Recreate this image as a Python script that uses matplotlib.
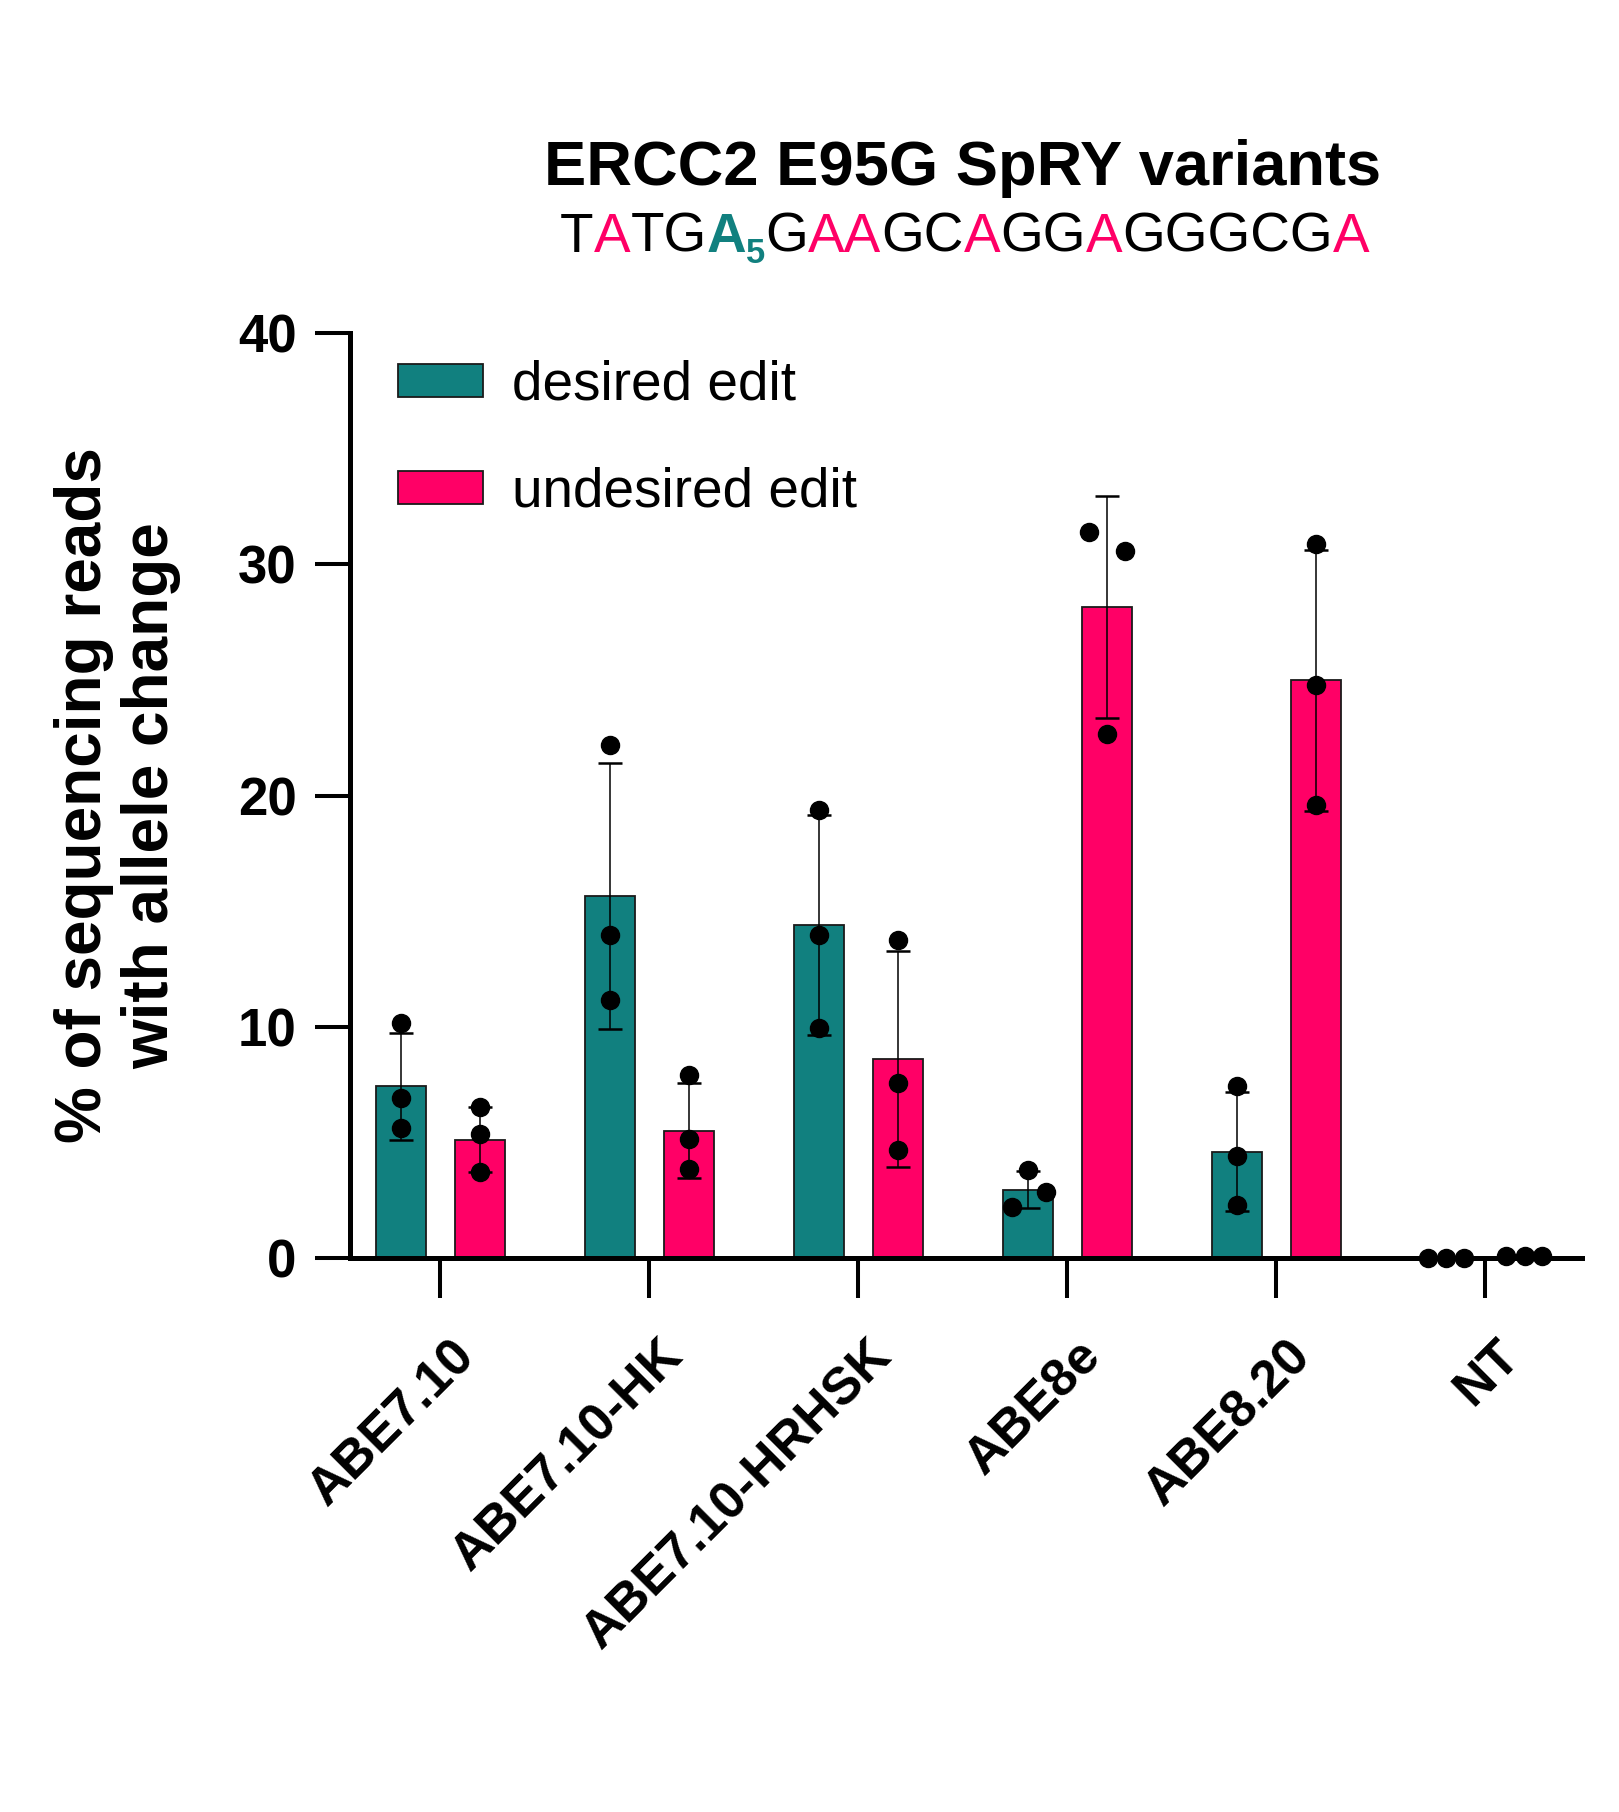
import numpy as np
import matplotlib
matplotlib.use("Agg")
import matplotlib.pyplot as plt
from matplotlib.transforms import ScaledTranslation

plt.rcParams['font.family'] = ['Liberation Sans', 'DejaVu Sans']

# ---------------- data ----------------
categories = ['ABE7.10', 'ABE7.10-HK', 'ABE7.10-HRHSK', 'ABE8e', 'ABE8.20', 'NT']
series_names = ['desired edit', 'undesired edit']

desired_mean = [7.42, 15.65, 14.40, 2.95, 4.60, 0.0]
desired_sd = [2.30, 5.75, 4.75, 0.80, 2.57, 0.0]
desired_points = [[10.16, 6.91, 5.61],
                  [22.19, 13.95, 11.17],
                  [19.39, 13.98, 9.94],
                  [3.81, 2.87, 2.22],
                  [7.45, 4.39, 2.29],
                  [0.0, 0.0, 0.0]]

undesired_mean = [5.11, 5.51, 8.59, 28.17, 24.98, 0.1]
undesired_sd = [1.40, 2.07, 4.67, 4.80, 5.65, 0.0]
undesired_points = [[6.55, 5.35, 3.74],
                    [7.92, 5.14, 3.84],
                    [13.75, 7.56, 4.65],
                    [31.39, 30.57, 22.68],
                    [30.88, 24.77, 19.59],
                    [0.1, 0.1, 0.1]]

y_ticks = [0, 10, 20, 30, 40]

title_text = 'ERCC2 E95G SpRY variants'
ylabel_text = '% of sequencing reads\nwith allele change'
# sequence pieces: (text, role)
seq_pieces = [('T', 'n'), ('A', 'p'), ('TG', 'n'), ('A', 't'), ('5', 'sub'),
              ('G', 'n'), ('AA', 'p'), ('GC', 'n'), ('A', 'p'), ('GG', 'n'),
              ('A', 'p'), ('GGGCG', 'n'), ('A', 'p')]

# ---------------- style / layout ----------------
TEAL = '#11807F'
PINK = '#FF0066'
W, H = 1619, 1812
DPI = 100
bar_w = 0.24
bar_off = 0.189
# horizontal jitter of replicate dots (category units)
desired_jit = [[0, 0, 0], [0, 0, 0], [0, 0, 0], [0, 0.085, -0.075], [0, 0, 0], [-0.085, 0, 0.085]]
undesired_jit = [[0, 0, 0], [0, 0, 0], [0, 0, 0], [-0.088, 0.084, 0], [0, 0, 0], [-0.09, 0, 0.08]]

fig = plt.figure(figsize=(W / DPI, H / DPI), dpi=DPI)
ax = fig.add_axes([350 / W, 1 - 1258 / H, 1232 / W, 925 / H])

x = np.arange(len(categories))
dm, ds = np.array(desired_mean), np.array(desired_sd)
um, us = np.array(undesired_mean), np.array(undesired_sd)

b1 = ax.bar(x - bar_off, dm, width=bar_w, color=TEAL, edgecolor='#1a1a1a', linewidth=1.3,
            label=series_names[0], zorder=2)
b2 = ax.bar(x + bar_off, um, width=bar_w, color=PINK, edgecolor='#1a1a1a', linewidth=1.3,
            label=series_names[1], zorder=2)

m1 = ds > 0
m2 = us > 0
ax.errorbar((x - bar_off)[m1], dm[m1], yerr=ds[m1], fmt='none', ecolor='black',
            elinewidth=1.1, capsize=8.5, capthick=1.8, zorder=3)
ax.errorbar((x + bar_off)[m2], um[m2], yerr=us[m2], fmt='none', ecolor='black',
            elinewidth=1.1, capsize=8.5, capthick=1.8, zorder=3)

for i in range(len(categories)):
    ax.plot(x[i] - bar_off + np.array(desired_jit[i]), desired_points[i], 'o', color='black',
            markersize=13, zorder=4, clip_on=False)
    ax.plot(x[i] + bar_off + np.array(undesired_jit[i]), undesired_points[i], 'o', color='black',
            markersize=13, zorder=4, clip_on=False)

ax.set_xlim(-0.433, 5.462)
ax.set_ylim(0, 40)
ax.set_yticks(y_ticks)
ax.set_yticklabels([str(t) for t in y_ticks], fontweight='bold')
ax.set_xticks(x)
ax.set_xticklabels(categories, fontweight='bold', rotation=45, ha='right', va='baseline',
                   rotation_mode='anchor')

for s in ['top', 'right']:
    ax.spines[s].set_visible(False)
for s in ['left', 'bottom']:
    ax.spines[s].set_linewidth(3.6)
ax.tick_params(axis='y', length=25, width=2.9, pad=13.5, labelsize=38)
ax.tick_params(axis='x', length=29, width=2.9, pad=43, labelsize=37.5)
off = ScaledTranslation(0.36, 0, fig.dpi_scale_trans)
for lab in ax.get_xticklabels():
    lab.set_transform(lab.get_transform() + off)

ax.set_ylabel(ylabel_text, fontsize=46, fontweight='bold', linespacing=1.15)
ax.yaxis.set_label_coords(-0.137, 0.5)

leg = ax.legend(handles=[b1, b2], labels=series_names, loc='upper left',
                bbox_to_anchor=(398 / W, 1 - 360 / H), bbox_transform=fig.transFigure,
                frameon=False, fontsize=39.5, handlelength=1.55, handleheight=0.55,
                handletextpad=0.52, labelspacing=1.0, borderpad=0, borderaxespad=0)

# title
fig.text(963 / W, 1 - 185 / H, title_text, ha='center', va='baseline',
         fontsize=45.5, fontweight='bold', color='black')

# colored sequence
renderer = fig.canvas.get_renderer()
styles = {'n': dict(color='black', fontweight='normal', fontsize=39.5, dy=0),
          'p': dict(color=PINK, fontweight='normal', fontsize=39.5, dy=0),
          't': dict(color=TEAL, fontweight='bold', fontsize=39.5, dy=0),
          'sub': dict(color=TEAL, fontweight='bold', fontsize=25, dy=11)}


def adv(txt, st):
    t1 = fig.text(0, 0, txt + 'H', fontsize=st['fontsize'], fontweight=st['fontweight'])
    t2 = fig.text(0, 0, 'H', fontsize=st['fontsize'], fontweight=st['fontweight'])
    w = t1.get_window_extent(renderer).width - t2.get_window_extent(renderer).width
    t1.remove()
    t2.remove()
    return w


widths = [adv(t, styles[r]) for t, r in seq_pieces]
total = sum(widths)
cx = 965
xpos = cx - total / 2
base_y = 252
for (t, r), w in zip(seq_pieces, widths):
    st = styles[r]
    fig.text(xpos / W, 1 - (base_y + st['dy']) / H, t, ha='left', va='baseline',
             fontsize=st['fontsize'], fontweight=st['fontweight'], color=st['color'])
    xpos += w

fig.savefig('out.png', dpi=DPI)
